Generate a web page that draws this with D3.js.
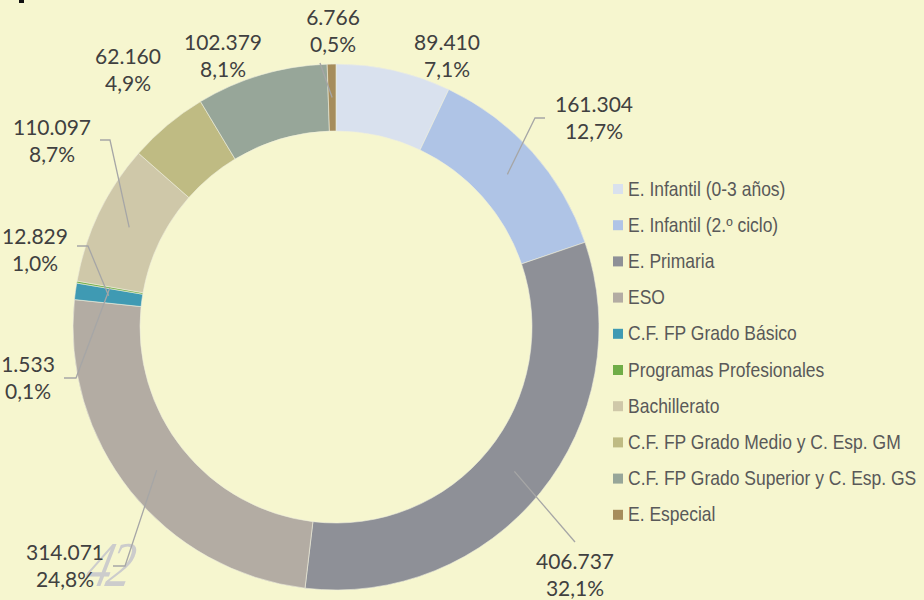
<!DOCTYPE html>
<html lang="es">
<head>
    <meta charset="UTF-8">
    <title>Alumnado por enseñanza</title>
    <script src="https://d3js.org/d3.v7.min.js"></script>
    <style>
        body { margin: 0; background: #f6f6cf; }
        .lbl { font-family: Lato, "Open Sans", sans-serif; font-size: 21px; fill: #404040; text-anchor: middle; }
        .legend text { font-family: "Liberation Sans", Arial, sans-serif; font-size: 17.5px; fill: #595959; }
        .leader { fill: none; stroke: #a6a6a6; stroke-width: 1.3px; }
    </style>
</head>
<body>
    <svg id="chart" width="924" height="600"></svg>
    <script>
        var categories = ["E. Infantil (0-3 años)", "E. Infantil (2.º ciclo)", "E. Primaria", "ESO",
            "C.F. FP Grado Básico", "Programas Profesionales", "Bachillerato",
            "C.F. FP Grado Medio y C. Esp. GM", "C.F. FP Grado Superior y C. Esp. GS", "E. Especial"];
        var values = [89410, 161304, 406737, 314071, 12829, 1533, 110097, 62160, 102379, 6766];
        var colors = ["#d9e1ee", "#afc4e6", "#8e9097", "#b3aca3", "#3f9ab3", "#70ad47",
            "#cfc8a9", "#bfbb83", "#97a699", "#a68d5c"];

        // where each label sits (first line centre) and the elbow of its leader line
        var labelLayout = [
            {x: 447, y: 50, leader: null},
            {x: 594, y: 112, leader: [[545, 118], [535, 118]]},
            {x: 575, y: 569, leader: [[575, 542]]},
            {x: 65, y: 560, leader: [[113, 566], [125, 566]]},
            {x: 35, y: 244, leader: [[77, 246], [88, 246]]},
            {x: 28, y: 372, leader: [[64, 378], [76, 378]]},
            {x: 52, y: 135, leader: [[100, 140], [110, 140]]},
            {x: 128, y: 64, leader: null},
            {x: 223, y: 50, leader: null},
            {x: 333, y: 25, leader: [[320, 63]]}
        ];

        var svg = d3.select("#chart");
        var cx = 336, cy = 327, outerR = 263, innerR = 196;

        svg.append("rect").attr("width", 924).attr("height", 600).attr("fill", "#f6f6cf");
        // bit of the page title cut off above
        svg.append("rect").attr("x", 19).attr("y", 0).attr("width", 5).attr("height", 3).attr("fill", "#111");

        var locale = d3.formatLocale({decimal: ",", thousands: ".", grouping: [3], currency: ["", "€"]});
        var fmtNum = locale.format(",d");
        var fmtPct = locale.format(".1%");
        var total = d3.sum(values);

        var data = categories.map(function(c, i) { return {name: c, value: values[i], color: colors[i], layout: labelLayout[i]}; });

        var pie = d3.pie().sort(null).value(d => d.value);
        var arc = d3.arc().innerRadius(innerR).outerRadius(outerR);
        var arcs = pie(data);

        var g = svg.append("g").attr("transform", "translate(" + cx + "," + cy + ")");

        g.selectAll("path.slice")
            .data(arcs)
            .enter().append("path")
            .attr("class", "slice")
            .attr("d", arc)
            .attr("fill", d => d.data.color)
            .attr("stroke", "#eeeedd")
            .attr("stroke-width", 0.6);

        // watermark page number
        svg.append("text")
            .attr("transform", "translate(104,586) skewX(-14) scale(0.85,1.1)")
            .attr("text-anchor", "middle")
            .style("font-family", "'Liberation Serif', serif")
            .style("font-style", "italic")
            .style("font-size", "58px")
            .style("letter-spacing", "-5px")
            .style("fill", "#cccccc")
            .text("42");

        // leader lines
        arcs.forEach(function(a) {
            var L = a.data.layout;
            if (!L.leader) return;
            var c = arc.centroid(a);
            var pts = L.leader.concat([[c[0] + cx, c[1] + cy]]);
            svg.append("path")
                .attr("class", "leader")
                .attr("d", d3.line()(pts));
        });

        // labels
        arcs.forEach(function(a) {
            var L = a.data.layout;
            var t = svg.append("text").attr("class", "lbl").attr("x", L.x).attr("y", L.y);
            t.append("tspan").attr("x", L.x).attr("dy", 0).text(fmtNum(a.data.value));
            t.append("tspan").attr("x", L.x).attr("dy", 27).text(fmtPct(a.data.value / total));
        });

        // legend
        var legend = svg.append("g").attr("class", "legend").attr("transform", "translate(613,189)");
        var item = legend.selectAll("g")
            .data(data)
            .enter().append("g")
            .attr("transform", (d, i) => "translate(0," + (i * 36.2) + ")");
        item.append("rect")
            .attr("x", 0).attr("y", -5)
            .attr("width", 10).attr("height", 10)
            .attr("fill", d => d.color);
        item.append("text")
            .attr("transform", "translate(15,6.5) scale(1,1.12)")
            .text(d => d.name);
    </script>
</body>
</html>
